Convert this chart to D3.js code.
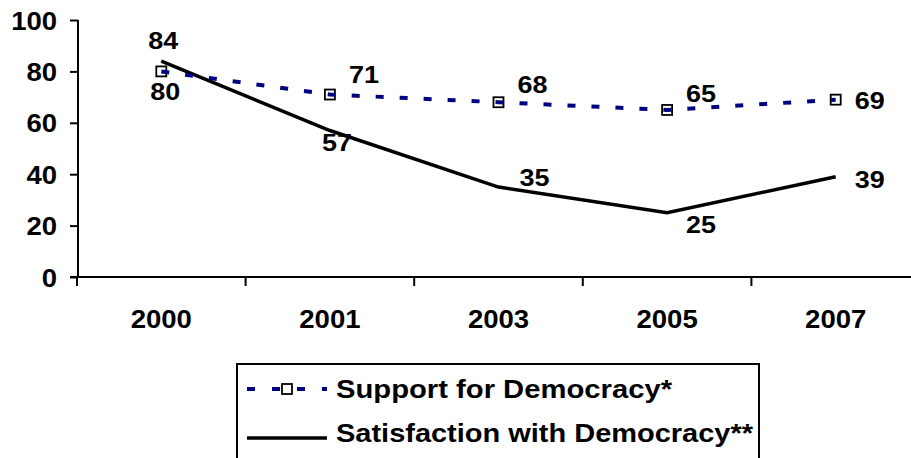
<!DOCTYPE html>
<html>
<head>
<meta charset="utf-8">
<script src="https://cdn.jsdelivr.net/npm/d3@7"></script>
<style>
  html, body { margin: 0; padding: 0; background: #fff; }
  svg { display: block; }
  text { font-family: "Liberation Sans", Arial, sans-serif; font-weight: bold; fill: #000; }
</style>
</head>
<body>
<svg id="chart" width="911" height="458"></svg>
<script>
// ---- data ----
const years = ["2000", "2001", "2003", "2005", "2007"];
const supportValues = [80, 71, 68, 65, 69];
const satisfactionValues = [84, 57, 35, 25, 39];
const yTicks = [0, 20, 40, 60, 80, 100];
const seriesNames = ["Support for Democracy*", "Satisfaction with Democracy**"];

// ---- label placement (layout, not data) ----
const supportLabelOffsets = [[4, 29], [34, -12], [34, -9], [34, -8], [34, 9]];
const satisfactionLabelOffsets = [[2, -12], [7, 20], [36, -1], [34, 20], [34, 11]];

(function () {
const svg = d3.select("#chart");
const W = 911, H = 458;
const plotLeft = 78, plotTop = 20, plotBottom = 277;
const sx = 1.1; // horizontal stretch of text in the original

const x = d3.scalePoint().domain(years).range([77, 920]).padding(0.5);
const band = x.step();
const y = d3.scaleLinear().domain([0, 100]).range([plotBottom, plotTop]);

function stretchedText(g, tx, ty, str, size, anchor, scale) {
  const gg = g.append("g").attr("transform", `translate(${tx},${ty})`);
  return gg.append("text")
    .attr("transform", `scale(${scale},1)`)
    .attr("text-anchor", anchor)
    .attr("font-size", size)
    .text(str);
}

// ---- Y axis ----
const yAxis = d3.axisLeft(y).tickValues(yTicks).tickSize(8).tickFormat(d => "");
const gy = svg.append("g").attr("transform", `translate(${plotLeft},0)`).call(yAxis);
gy.select(".domain").attr("stroke", "#000").attr("stroke-width", 2).attr("d", `M0,${plotTop}V${plotBottom}`);
gy.selectAll(".tick line").attr("stroke", "#000").attr("stroke-width", 2);
yTicks.forEach(t => stretchedText(svg, 57, y(t) + 9.5, String(t), 25, "end", sx));

// ---- X axis ----
const xAxis = d3.axisBottom(x).tickSize(0).tickFormat(d => "");
const gx = svg.append("g").attr("transform", `translate(0,${plotBottom})`).call(xAxis);
gx.select(".domain").attr("stroke", "#000").attr("stroke-width", 2).attr("d", `M${plotLeft - 8},0H${W}`);
const boundaries = years.map(d => x(d) - band / 2).concat([x(years[years.length - 1]) + band / 2]);
svg.append("g").selectAll("line").data(boundaries).join("line")
  .attr("x1", d => d).attr("x2", d => d)
  .attr("y1", plotBottom).attr("y2", plotBottom + 9)
  .attr("stroke", "#000").attr("stroke-width", 2);
years.forEach(yr => stretchedText(svg, x(yr), plotBottom + 51, yr, 25.5, "middle", 1.08));

// ---- lines ----
const line = d3.line().x((d, i) => x(years[i])).y(d => y(d));

svg.append("path").datum(satisfactionValues)
  .attr("d", line).attr("fill", "none")
  .attr("stroke", "#000").attr("stroke-width", 3.5)
  .attr("stroke-linejoin", "miter");

svg.append("g").selectAll("rect").data(supportValues).join("rect")
  .attr("x", (d, i) => x(years[i]) - 5).attr("y", d => y(d) - 5)
  .attr("width", 10).attr("height", 10)
  .attr("fill", "#fff").attr("stroke", "#000").attr("stroke-width", 1.8);

svg.append("path").datum(supportValues)
  .attr("d", line).attr("fill", "none")
  .attr("stroke", "#000080").attr("stroke-width", 4)
  .attr("stroke-dasharray", "8,16");

// ---- data labels ----
supportValues.forEach((v, i) => {
  const [dx, dy] = supportLabelOffsets[i];
  stretchedText(svg, x(years[i]) + dx, y(v) + dy, String(v), 24.5, "middle", sx);
});
satisfactionValues.forEach((v, i) => {
  const [dx, dy] = satisfactionLabelOffsets[i];
  stretchedText(svg, x(years[i]) + dx, y(v) + dy, String(v), 24.5, "middle", sx);
});

// ---- legend ----
const lg = svg.append("g");
lg.append("rect").attr("x", 237).attr("y", 364).attr("width", 522).attr("height", 110)
  .attr("fill", "#fff").attr("stroke", "#000").attr("stroke-width", 2);
lg.append("line").attr("x1", 247).attr("x2", 327).attr("y1", 389).attr("y2", 389)
  .attr("stroke", "#000080").attr("stroke-width", 4).attr("stroke-dasharray", "8,17");
lg.append("rect").attr("x", 282).attr("y", 384).attr("width", 10).attr("height", 10)
  .attr("fill", "#fff").attr("stroke", "#000").attr("stroke-width", 1.8);
lg.append("line").attr("x1", 247).attr("x2", 327).attr("y1", 438).attr("y2", 438)
  .attr("stroke", "#000").attr("stroke-width", 3.5);
lg.append("text").attr("x", 336).attr("y", 398).attr("font-size", 25)
  .attr("textLength", 336).attr("lengthAdjust", "spacingAndGlyphs").text(seriesNames[0]);
lg.append("text").attr("x", 336).attr("y", 442).attr("font-size", 25)
  .attr("textLength", 417).attr("lengthAdjust", "spacingAndGlyphs").text(seriesNames[1]);
})();
</script>
</body>
</html>
